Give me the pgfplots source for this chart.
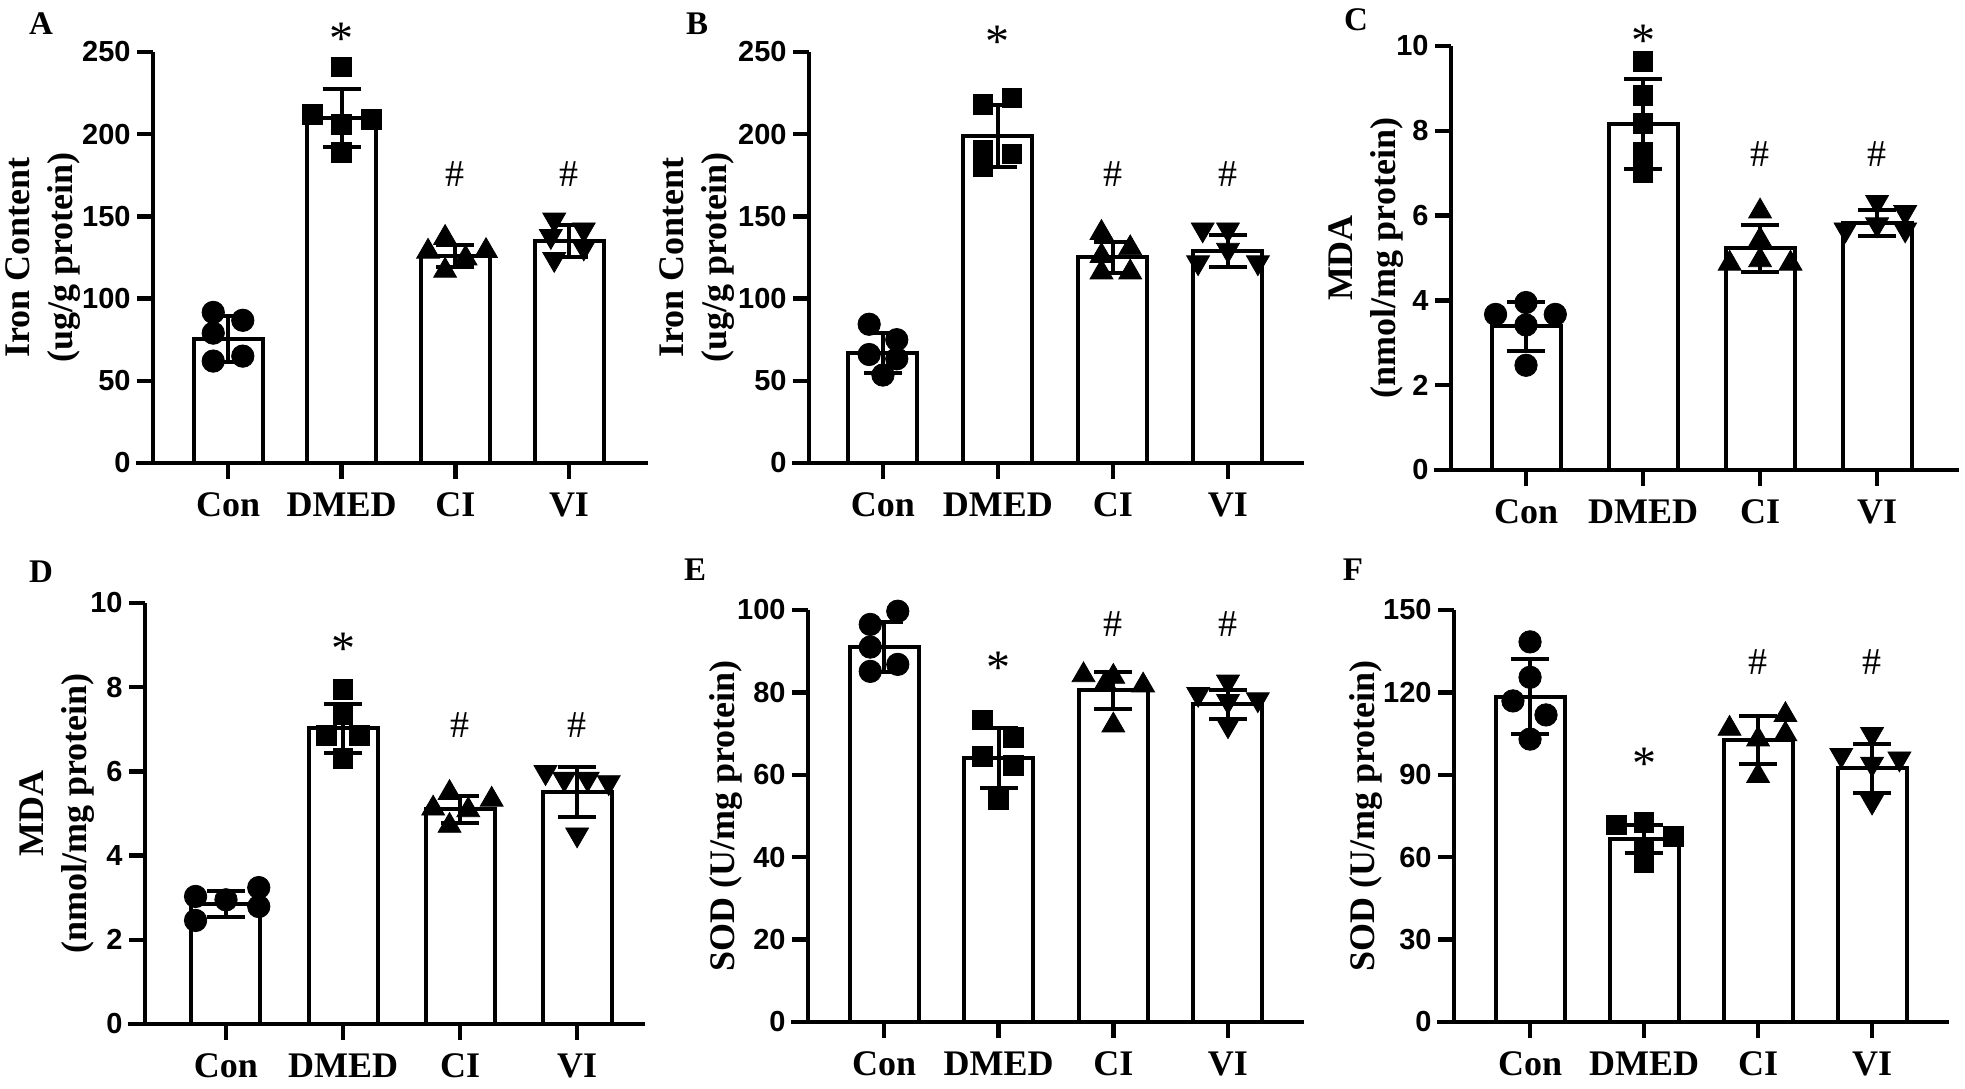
\documentclass[border=0pt]{standalone}
\usepackage{fontspec}
\setmainfont{Liberation Serif}
\newfontfamily\ticksf{Liberation Sans}
\usepackage{pgfplots}
\pgfplotsset{compat=1.18}
\tikzset{
  sigstar/.style={font=\fontsize{24}{24}\selectfont, yshift=-4pt},
  sighash/.style={font=\fontsize{19}{19}\selectfont},
  plabel/.style={font=\fontsize{16.5}{16.5}\selectfont\bfseries},
}
\pgfplotsset{
  panel/.style={
    scale only axis, axis lines=left, clip=false,
    axis line style={-, line width=2.2pt, black},
    every outer x axis line/.append style={-, shorten <=-8.5pt},
    every outer y axis line/.append style={-},
    xtick={0,1,2,3}, xticklabels={Con,DMED,CI,VI},
    tick align=outside, major tick length=8pt,
    tick style={line width=2.2pt, black},
    xticklabel style={font=\fontsize{18}{20}\selectfont\bfseries, yshift=-3.5pt},
    yticklabel style={font=\fontsize{14.5}{16}\selectfont\ticksf\bfseries, inner sep=3pt},
    /pgf/number format/assume math mode=true,
    ylabel style={font=\fontsize{18}{21.5}\selectfont\bfseries, align=center, anchor=center},
    ymin=0,
  },
  barplot/.style={ybar, bar width=34.5pt, bar shift=0pt, fill=white, draw=black, line width=2pt},
  circ/.style={only marks, mark=*, mark size=5.6pt, black},
  sq/.style={only marks, mark=square*, mark size=4.9pt, black},
  tri/.style={only marks, mark=triangle*, mark size=6.6pt, black},
  dtri/.style={only marks, mark=triangle*, mark size=6.6pt, black, mark options={rotate=180}},
  errplot/.style={draw=none, mark=none, forget plot, error bars/.cd, y dir=both, y explicit,
     error bar style={draw=black, line width=2pt},
     error mark options={draw=black, rotate=90, mark size=9.5pt, line width=2pt}},
}
\begin{document}
\begin{tikzpicture}
\useasboundingbox (0,0) rectangle (982.5pt,544pt);
% ---------------- A
\begin{axis}[panel, at={(76.5pt,312.5pt)}, width=247.5pt, height=205.5pt,
  xmin=-0.66, xmax=3.695, ymax=250, ytick={0,50,...,250},
  ylabel={Iron Content\\(ug/g protein)}, ylabel style={at={(axis description cs:-0.222,0.5)}}]
\addplot[barplot] coordinates {(0,75.5) (1,210) (2,126) (3,135)};
\addplot[circ] coordinates {(-0.13,91.6) (0.13,86.8) (-0.13,79) (-0.13,62) (0.13,65)};
\addplot[sq] coordinates {(1,241) (0.74,212) (1.26,209) (1,206) (1,189)};
\addplot[tri] coordinates {(1.91,137) (1.76,128.6) (2.27,129) (2.09,124.5) (1.91,117)};
\addplot[dtri] coordinates {(2.87,148) (3.13,142) (2.84,138) (3.13,131) (2.87,124)};
\addplot[errplot] coordinates {(0,75.5) +- (0,14) (1,210) +- (0,17.5) (2,126) +- (0,6.5) (3,135) +- (0,9.5)};
\node[sigstar] at (axis cs:1,263) {*};
\node[sighash] at (axis cs:2,176) {\#};
\node[sighash] at (axis cs:3,176) {\#};
\end{axis}
% ---------------- B
\begin{axis}[panel, at={(404.5pt,312.5pt)}, width=247.5pt, height=205.5pt,
  xmin=-0.643, xmax=3.661, ymax=250, ytick={0,50,...,250},
  ylabel={Iron Content\\(ug/g protein)}, ylabel style={at={(axis description cs:-0.226,0.5)}}]
\addplot[barplot] coordinates {(0,67) (1,199) (2,125) (3,129)};
\addplot[circ] coordinates {(-0.12,84.4) (0.12,75) (-0.12,66) (0.12,63.4) (0,53.5)};
\addplot[sq] coordinates {(1.12,222) (0.87,218) (0.87,190) (1.12,188) (0.87,180)};
\addplot[tri] coordinates {(1.9,140) (2.15,130.7) (1.9,126) (1.9,116) (2.15,116)};
\addplot[dtri] coordinates {(2.78,142) (3,142) (3,129.6) (2.74,122) (3.26,122)};
\addplot[errplot] coordinates {(0,67) +- (0,12) (1,199) +- (0,19) (2,125) +- (0,9.5) (3,129) +- (0,9.5)};
\node[sigstar] at (axis cs:1,261) {*};
\node[sighash] at (axis cs:2,176) {\#};
\node[sighash] at (axis cs:3,176) {\#};
\end{axis}
% ---------------- C
\begin{axis}[panel, at={(725.5pt,309pt)}, width=254pt, height=212pt,
  xmin=-0.641, xmax=3.70, ymax=10, ytick={0,2,...,10},
  ylabel={MDA\\(nmol/mg protein)}, ylabel style={at={(axis description cs:-0.167,0.5)}}]
\addplot[barplot] coordinates {(0,3.39) (1,8.16) (2,5.23) (3,5.83)};
\addplot[circ] coordinates {(-0.26,3.67) (0.25,3.67) (0,3.95) (0,3.42) (0,2.47)};
\addplot[sq] coordinates {(1,9.63) (1,8.83) (1,8.18) (1,7.5) (1,7.02)};
\addplot[tri] coordinates {(2,6.1) (2,5.43) (1.74,4.87) (2,4.95) (2.26,4.87)};
\addplot[dtri] coordinates {(3,6.32) (3.24,6.08) (2.73,5.67) (3,5.79) (3.24,5.67)};
\addplot[errplot] coordinates {(0,3.39) +- (0,0.58) (1,8.16) +- (0,1.05) (2,5.23) +- (0,0.55) (3,5.83) +- (0,0.3)};
\node[sigstar] at (axis cs:1,10.3) {*};
\node[sighash] at (axis cs:2,7.45) {\#};
\node[sighash] at (axis cs:3,7.45) {\#};
\end{axis}
% ---------------- D
\begin{axis}[panel, at={(72.5pt,32pt)}, width=250pt, height=210.5pt,
  xmin=-0.692, xmax=3.58, ymax=10, ytick={0,2,...,10},
  ylabel={MDA\\(nmol/mg protein)}, ylabel style={at={(axis description cs:-0.176,0.5)}}]
\addplot[barplot] coordinates {(0,2.84) (1,7.02) (2,5.1) (3,5.51)};
\addplot[circ] coordinates {(-0.26,3.03) (0.28,3.24) (0,2.95) (0.28,2.79) (-0.26,2.46)};
\addplot[sq] coordinates {(1,7.95) (1,7.34) (0.86,6.86) (1.14,6.86) (1,6.31)};
\addplot[tri] coordinates {(1.91,5.49) (2.27,5.33) (1.77,5.12) (2.07,5.08) (1.91,4.71)};
\addplot[dtri] coordinates {(2.73,5.98) (2.89,5.82) (3.09,5.82) (3.27,5.74) (3,4.5)};
\addplot[errplot] coordinates {(0,2.84) +- (0,0.31) (1,7.02) +- (0,0.59) (2,5.1) +- (0,0.32) (3,5.51) +- (0,0.59)};
\node[sigstar] at (axis cs:1,9.1) {*};
\node[sighash] at (axis cs:2,7.1) {\#};
\node[sighash] at (axis cs:3,7.1) {\#};
\end{axis}
% ---------------- E
\begin{axis}[panel, at={(404pt,33pt)}, width=248pt, height=206pt,
  xmin=-0.663, xmax=3.663, ymax=100, ytick={0,20,...,100},
  ylabel={SOD (U/mg protein)}, ylabel style={at={(axis description cs:-0.165,0.5)}}]
\addplot[barplot] coordinates {(0,91) (1,64) (2,80.5) (3,77.1)};
\addplot[circ] coordinates {(0.12,99.7) (-0.12,96.5) (-0.12,91) (0.12,86.8) (-0.12,85.1)};
\addplot[sq] coordinates {(0.86,73.3) (1.13,69.1) (0.86,64.4) (1.13,62.3) (1,53.9)};
\addplot[tri] coordinates {(1.74,84.2) (2,83.8) (2.26,81.7) (1.93,82.1) (2,72)};
\addplot[dtri] coordinates {(2.74,79.6) (3,82.6) (3.26,78.3) (3,77.9) (3,72)};
\addplot[errplot] coordinates {(0,91) +- (0,6.1) (1,64) +- (0,7.3) (2,80.5) +- (0,4.55) (3,77.1) +- (0,3.45)};
\node[sigstar] at (axis cs:1,87.9) {*};
\node[sighash] at (axis cs:2,96.5) {\#};
\node[sighash] at (axis cs:3,96.5) {\#};
\end{axis}
% ---------------- F
\begin{axis}[panel, at={(727pt,33pt)}, width=247.5pt, height=206pt,
  xmin=-0.667, xmax=3.675, ymax=150, ytick={0,30,...,150},
  ylabel={SOD (U/mg protein)}, ylabel style={at={(axis description cs:-0.178,0.5)}}]
\addplot[barplot] coordinates {(0,118.4) (1,66.6) (2,102.6) (3,92.3)};
\addplot[circ] coordinates {(0,138.4) (0,125.5) (-0.15,116.9) (0.14,111.8) (0,103)};
\addplot[sq] coordinates {(0.76,71.8) (1,72.7) (1.26,67.6) (1,62.6) (1,58.2)};
\addplot[tri] coordinates {(1.75,106.8) (2.24,111.8) (2.24,104.8) (2,102.9) (2,89.6)};
\addplot[dtri] coordinates {(3,104.8) (2.73,97.2) (3.24,95.9) (3,94) (3,80.2)};
\addplot[errplot] coordinates {(0,118.4) +- (0,13.6) (1,66.6) +- (0,5) (2,102.6) +- (0,8.7) (3,92.3) +- (0,9)};
\node[sigstar] at (axis cs:1,96.8) {*};
\node[sighash] at (axis cs:2,131) {\#};
\node[sighash] at (axis cs:3,131) {\#};
\end{axis}
% panel letters
\node[plabel] at (20.5pt,532pt) {A};
\node[plabel] at (348.5pt,532pt) {B};
\node[plabel] at (678pt,534pt) {C};
\node[plabel] at (20.5pt,258pt) {D};
\node[plabel] at (347.5pt,259pt) {E};
\node[plabel] at (676.5pt,259pt) {F};
\end{tikzpicture}
\end{document}
